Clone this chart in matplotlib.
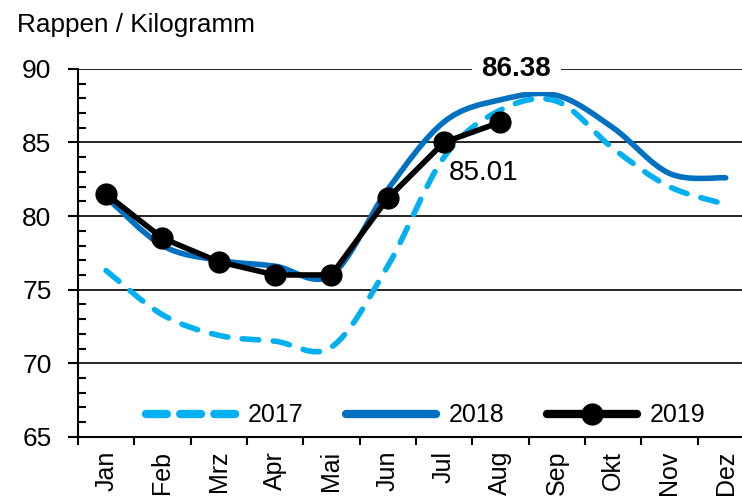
import numpy as np
import matplotlib
matplotlib.use("Agg")
import matplotlib.pyplot as plt
from matplotlib.path import Path
from matplotlib.patches import PathPatch
from matplotlib.ticker import MultipleLocator

plt.rcParams["font.family"] = ["Liberation Sans", "DejaVu Sans"]

# ---- data ----
months = ["Jan", "Feb", "Mrz", "Apr", "Mai", "Jun", "Jul", "Aug", "Sep", "Okt", "Nov", "Dez"]
vals_2017 = [76.3, 73.3, 71.9, 71.5, 71.1, 76.6, 84.0, 87.2, 87.8, 84.6, 82.0, 80.8]
vals_2018 = [81.3, 78.0, 77.0, 76.6, 76.0, 81.8, 86.4, 87.9, 88.2, 86.0, 82.9, 82.6]
vals_2019 = [81.5, 78.5, 76.9, 76.0, 76.0, 81.2, 85.01, 86.38]
label_last = "86.38"
label_prev = "85.01"

c17 = "#00B0F0"
c18 = "#0070C0"
c19 = "#000000"


def smooth_path(y):
    # Excel-style smoothed line: cubic bezier through the monthly values
    x = np.arange(len(y), dtype=float)
    y = np.asarray(y, dtype=float)
    pts = np.column_stack([x, y])
    verts = [pts[0]]
    codes = [Path.MOVETO]
    n = len(pts)
    for i in range(n - 1):
        p0 = pts[i - 1] if i > 0 else pts[i]
        p1 = pts[i]
        p2 = pts[i + 1]
        p3 = pts[i + 2] if i + 2 < n else pts[i + 1]
        c1 = p1 + (p2 - p0) / 6.0
        c2 = p2 - (p3 - p1) / 6.0
        verts += [c1, c2, p2]
        codes += [Path.CURVE4] * 3
    return Path(verts, codes)


fig = plt.figure(figsize=(7.42, 5.01), dpi=100)
ax = fig.add_axes([0.105, 0.128, 0.911, 0.7345])

ax.add_patch(PathPatch(smooth_path(vals_2017), fill=False, edgecolor=c17, lw=4,
                       linestyle=(0, (3.0, 2.6)), capstyle="round", zorder=3))
ax.add_patch(PathPatch(smooth_path(vals_2018), fill=False, edgecolor=c18, lw=4,
                       capstyle="round", joinstyle="round", zorder=4))
ax.plot(range(len(vals_2019)), vals_2019, color=c19, lw=4, marker="o", ms=15,
        solid_capstyle="round", zorder=5)

# legend proxies
h17, = ax.plot([], [], color=c17, lw=6, linestyle=(0, (2.5, 1.6)), dash_capstyle="round", label="2017")
h18, = ax.plot([], [], color=c18, lw=6, solid_capstyle="round", label="2018")
h19, = ax.plot([], [], color=c19, lw=6, marker="o", ms=15, solid_capstyle="round", label="2019")
ax.legend(handles=[h17, h18, h19], loc="lower center", bbox_to_anchor=(0.514, -0.035), ncol=3,
          frameon=False, fontsize=18, handlelength=3.6, handletextpad=0.5,
          columnspacing=1.7)

ax.set_xlim(-0.5, 11.5)
ax.set_ylim(65, 90)
ax.set_xticks(range(12))
ax.set_xticklabels(months, rotation=90, fontsize=18)
ax.set_xticks(np.arange(-0.5, 12, 1), minor=True)
ax.tick_params(axis="x", which="major", length=0, pad=10)
ax.tick_params(axis="x", which="minor", length=6, width=1.5, direction="out")

ax.yaxis.set_major_locator(MultipleLocator(5))
ax.yaxis.set_minor_locator(MultipleLocator(1))
ax.tick_params(axis="y", which="major", length=7, width=1.5, direction="out",
               labelsize=19, pad=12)
ax.tick_params(axis="y", which="minor", length=6, width=1.5, direction="in")
ax.grid(axis="y", which="major", color="black", lw=1.2, zorder=1)

for s in ["top", "right"]:
    ax.spines[s].set_visible(False)
ax.spines["left"].set_linewidth(1.5)
ax.spines["bottom"].set_linewidth(1.5)
ax.spines["left"].set_zorder(6)

ax.text(7.28, 90, label_last, ha="center", va="center", fontsize=20, fontweight="bold",
        bbox=dict(facecolor="white", edgecolor="none", pad=7), zorder=7, clip_on=False)
ax.text(6.09, 82.9, label_prev, ha="left", va="center", fontsize=20, zorder=7)

fig.text(0.023, 0.95, "Rappen / Kilogramm", ha="left", va="center", fontsize=18.8)

fig.savefig("out.png", dpi=100)
